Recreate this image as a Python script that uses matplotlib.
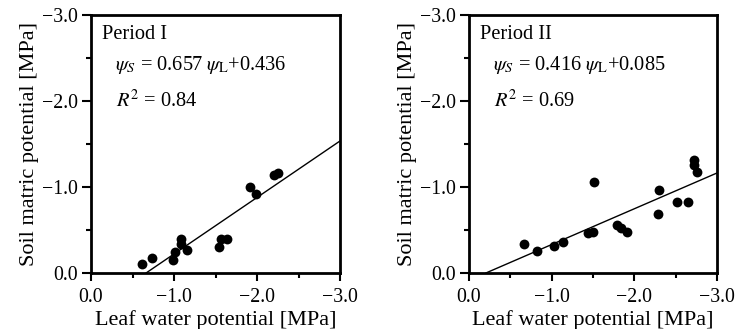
import matplotlib
matplotlib.use("Agg")
import matplotlib.pyplot as plt
import numpy as np
from matplotlib.ticker import MultipleLocator, FuncFormatter

plt.rcParams['font.family'] = ['Liberation Serif', 'DejaVu Serif']
plt.rcParams['mathtext.fontset'] = 'stix'

# Period I
leaf1 = [-0.61, -0.73, -0.99, -1.01, -1.09, -1.09, -1.16, -1.54, -1.57, -1.64, -1.91, -1.99, -2.20, -2.25]
soil1 = [-0.10, -0.17, -0.15, -0.25, -0.40, -0.34, -0.27, -0.30, -0.40, -0.40, -1.005, -0.92, -1.14, -1.16]
slope1, icpt1 = 0.657, 0.436
label1 = "Period I"
eq1 = r"$\psi_S$ = 0.657 $\psi_{\mathrm{L}}$+0.436"
r2_1 = r"$R^2$ = 0.84"

# Period II
leaf2 = [-0.66, -0.82, -1.03, -1.14, -1.44, -1.50, -1.51, -1.79, -1.84, -1.91, -2.29, -2.30, -2.52, -2.65, -2.72, -2.72, -2.76]
soil2 = [-0.34, -0.26, -0.31, -0.36, -0.46, -0.48, -1.06, -0.56, -0.52, -0.48, -0.69, -0.97, -0.83, -0.83, -1.31, -1.26, -1.17]
slope2, icpt2 = 0.416, 0.085
label2 = "Period II"
eq2 = r"$\psi_S$ = 0.416 $\psi_{\mathrm{L}}$+0.085"
r2_2 = r"$R^2$ = 0.69"

W, H = 745, 329
fig = plt.figure(figsize=(W/100, H/100), dpi=100)
ax1 = fig.add_axes([91/W, 1-273/H, 249/W, 258/H])
ax2 = fig.add_axes([469/W, 1-273/H, 248/W, 258/H])

fmt = FuncFormatter(lambda v, p: ("\u2212%.1f" % abs(v)) if v < -1e-9 else "0.0")

for ax, lx, sy, sl, ic, lab, eq, r2 in [
    (ax1, leaf1, soil1, slope1, icpt1, label1, eq1, r2_1),
    (ax2, leaf2, soil2, slope2, icpt2, label2, eq2, r2_2)]:
    ax.scatter(lx, sy, s=50, color='black', zorder=3, clip_on=False, linewidths=0)
    x0 = -ic / sl
    xs = np.array([x0, -3.0])
    ax.plot(xs, sl * xs + ic, color='black', lw=1.0)
    ax.set_xlim(0, -3)
    ax.set_ylim(0, -3)
    ax.xaxis.set_major_locator(MultipleLocator(1.0))
    ax.xaxis.set_minor_locator(MultipleLocator(0.5))
    ax.yaxis.set_major_locator(MultipleLocator(1.0))
    ax.yaxis.set_minor_locator(MultipleLocator(0.5))
    ax.xaxis.set_major_formatter(fmt)
    ax.yaxis.set_major_formatter(fmt)
    ax.tick_params(which='both', direction='out', width=1.5, labelsize=14.3, top=False, right=False)
    ax.tick_params(axis='y', which='major', length=6.5, pad=3)
    ax.tick_params(axis='x', which='major', length=6, pad=5)
    ax.tick_params(which='minor', length=3.8)
    for s in ax.spines.values():
        s.set_linewidth(2)
    ax.set_xlabel("Leaf water potential [MPa]", fontsize=16, labelpad=2)
    ax.set_ylabel("Soil matric potential [MPa]", fontsize=16, labelpad=2)
    ax.text(0.044, 0.907, lab, transform=ax.transAxes, fontsize=14.7, va='baseline', ha='left')
    ax.text(0.096, 0.787, eq, transform=ax.transAxes, fontsize=14.7, va='baseline', ha='left')
    ax.text(0.10, 0.643, r2, transform=ax.transAxes, fontsize=14.7, va='baseline', ha='left')

fig.savefig("out.png", dpi=100)
